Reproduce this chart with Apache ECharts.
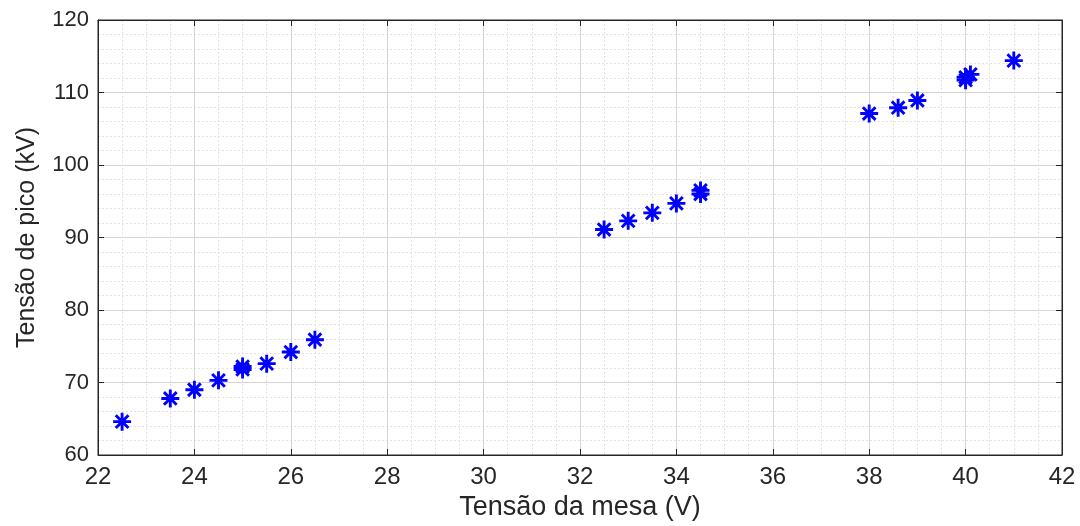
<!DOCTYPE html>
<html>
<head>
<meta charset="utf-8">
<script src="https://cdn.jsdelivr.net/npm/echarts@6/dist/echarts.min.js"></script>
<style>
  html, body { margin: 0; padding: 0; background: #fff; }
  #chart { width: 1080px; height: 526px; }
</style>
</head>
<body>
<div id="chart"></div>
<script>
// tensão da mesa (V) e tensão de pico (kV)
const mesaV = [22.5, 23.5, 24.0, 24.5, 25.0, 25.0, 25.5, 26.0, 26.5,
               32.5, 33.0, 33.5, 34.0, 34.5, 34.5,
               38.0, 38.6, 39.0, 40.0, 40.0, 40.1, 41.0];
const picoKV = [64.6, 67.8, 69.0, 70.3, 71.8, 72.2, 72.6, 74.2, 75.9,
                91.1, 92.3, 93.4, 94.7, 96.0, 96.5,
                107.1, 107.9, 108.9, 111.7, 112.1, 112.5, 114.4];

const xTicks = [22, 24, 26, 28, 30, 32, 34, 36, 38, 40, 42];
const yTicks = [60, 70, 80, 90, 100, 110, 120];

// asterisco estilo MATLAB (8 braços)
const asterisk = 'path://M0,8.4L20,8.4L20,11.6L0,11.6Z' +
  'M8.4,0L11.6,0L11.6,20L8.4,20Z' +
  'M4.1,1.8L18.2,15.9L15.9,18.2L1.8,4.1Z' +
  'M15.9,1.8L18.2,4.1L4.1,18.2L1.8,15.9Z';

const chart = echarts.init(document.getElementById('chart'));
const ink = '#262626';
const font = 'Liberation Sans, Arial, Helvetica, sans-serif';

const baseAxis = {
  axisLine: { show: true, onZero: false, lineStyle: { color: ink, width: 1 } },
  axisTick: { show: true, inside: true, length: 6, lineStyle: { color: ink } },
  splitLine: { show: true, lineStyle: { color: '#d4d4d4', width: 1 } },
  minorSplitLine: { show: true, lineStyle: { color: '#e2e2e2', type: [2, 2], width: 1 } }
};

chart.setOption({
  animation: false,
  backgroundColor: '#fff',
  grid: { left: 98, right: 18, top: 20, bottom: 71, show: true, borderColor: ink, borderWidth: 1 },
  xAxis: [
    Object.assign({}, baseAxis, {
      type: 'value', min: 22, max: 42, interval: 2,
      minorTick: { show: false, splitNumber: 4 },
      name: 'Tensão da mesa (V)', nameLocation: 'middle', nameGap: 37,
      nameTextStyle: { color: ink, fontSize: 27, fontFamily: font },
      axisLabel: { color: ink, fontSize: 24, fontFamily: font, margin: 10,
        formatter: v => xTicks.includes(v) ? String(v) : '' }
    }),
    {
      type: 'value', min: 22, max: 42, interval: 2, position: 'top',
      axisLine: { show: true, lineStyle: { color: ink } },
      axisTick: { show: true, inside: true, length: 6, lineStyle: { color: ink } },
      axisLabel: { show: false }, splitLine: { show: false }
    }
  ],
  yAxis: [
    Object.assign({}, baseAxis, {
      type: 'value', min: 60, max: 120, interval: 10,
      minorTick: { show: false, splitNumber: 5 },
      name: 'Tensão de pico (kV)', nameLocation: 'middle', nameGap: 58,
      nameTextStyle: { color: ink, fontSize: 25, fontFamily: font },
      axisLabel: { color: ink, fontSize: 22, fontFamily: font, margin: 9,
        formatter: v => yTicks.includes(v) ? String(v) : '' }
    }),
    {
      type: 'value', min: 60, max: 120, interval: 10, position: 'right',
      axisLine: { show: true, lineStyle: { color: ink } },
      axisTick: { show: true, inside: true, length: 6, lineStyle: { color: ink } },
      axisLabel: { show: false }, splitLine: { show: false }
    }
  ],
  series: [{
    type: 'scatter',
    symbol: asterisk,
    symbolSize: 18,
    itemStyle: { color: '#0000ff', opacity: 1 },
    data: mesaV.map((x, i) => [x, picoKV[i]])
  }]
});
</script>
</body>
</html>
